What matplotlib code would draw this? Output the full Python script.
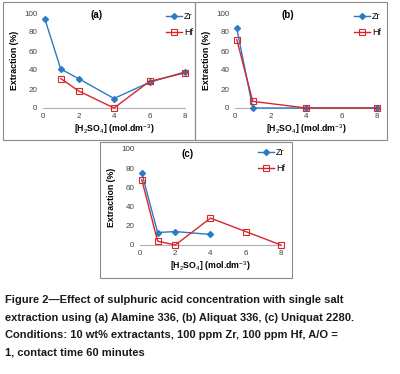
import matplotlib
matplotlib.use("Agg")
import matplotlib.pyplot as plt
from matplotlib.patches import Rectangle

plt.rcParams['font.family'] = ['Liberation Sans', 'DejaVu Sans']
plt.rcParams['mathtext.fontset'] = 'custom'
plt.rcParams['mathtext.rm'] = 'Liberation Sans'
plt.rcParams['mathtext.it'] = 'Liberation Sans:italic'
plt.rcParams['mathtext.bf'] = 'Liberation Sans:bold'

# data
a_zr_x = [0.1, 1, 2, 4, 6, 8]
a_zr_y = [94, 41, 31, 10, 27, 38]
a_hf_x = [1, 2, 4, 6, 8]
a_hf_y = [31, 18, 0, 28, 37]

b_zr_x = [0.1, 1, 4, 8]
b_zr_y = [84, 0, 0, 0]
b_hf_x = [0.1, 1, 4, 8]
b_hf_y = [72, 7, 0, 0]

c_zr_x = [0.1, 1, 2, 4]
c_zr_y = [75, 13, 14, 11]
c_hf_x = [0.1, 1, 2, 4, 6, 8]
c_hf_y = [68, 4, 0, 28, 14, 0]

panel_names = ['(a)', '(b)', '(c)']
xticks = [0, 2, 4, 6, 8]
yticks = [0, 20, 40, 60, 80, 100]

zr_col = '#2B7BC4'
hf_col = '#D9262B'

W, H = 400, 374
fig = plt.figure(figsize=(4, 3.74), dpi=100)

def px_rect(x0, y0, x1, y1):
    return [x0 / W, 1 - y1 / H, (x1 - x0) / W, (y1 - y0) / H]

def px_pt(x, y):
    return (x / W, 1 - y / H)

# panel frames
for (x0, y0, x1, y1) in [(3, 2, 195, 140), (195, 2, 387, 140), (100, 142, 292, 278)]:
    r = px_rect(x0, y0, x1, y1)
    fig.patches.append(Rectangle((r[0], r[1]), r[2], r[3], transform=fig.transFigure,
                                 fill=False, edgecolor='#8a8a8a', linewidth=0.8))

axes_px = [(43, 13, 185, 108), (235, 13, 377, 108), (140, 149, 281, 245)]
title_px = [(97, 15), (288, 15), (188, 154)]
legend_px = [(193, 12), (381, 12), (285, 148)]
series = [
    (a_zr_x, a_zr_y, a_hf_x, a_hf_y),
    (b_zr_x, b_zr_y, b_hf_x, b_hf_y),
    (c_zr_x, c_zr_y, c_hf_x, c_hf_y),
]

for i, ((x0, y0, x1, y1), (zx, zy, hx, hy)) in enumerate(zip(axes_px, series)):
    ax = fig.add_axes(px_rect(x0, y0, x1, y1))
    ax.plot(zx, zy, color=zr_col, marker='D', markersize=3, linewidth=1.0, label='Zr',
            zorder=3, clip_on=False)
    ax.plot(hx, hy, color=hf_col, marker='s', markersize=5, markerfacecolor='none',
            markeredgewidth=0.8, linewidth=1.0, label='Hf', zorder=3, clip_on=False)
    ax.set_xlim(0, 8)
    ax.set_ylim(0, 100)
    ax.set_xticks(xticks)
    ax.set_yticks(yticks)
    for s in ['top', 'right', 'left']:
        ax.spines[s].set_visible(False)
    ax.spines['bottom'].set_color('#b0b0b0')
    ax.spines['bottom'].set_linewidth(0.8)
    ax.tick_params(length=0, labelsize=5.8, labelcolor='#404040')
    ax.tick_params(axis='x', pad=3.5)
    ax.tick_params(axis='y', pad=4)
    ax.set_xlabel(r'[H$_2$SO$_4$] (mol.dm$^{-3}$)', fontsize=6.3, fontweight='bold', labelpad=1.5)
    ax.set_ylabel('Extraction (%)', fontsize=6.3, fontweight='bold', labelpad=3.5)
    ax.patch.set_alpha(0)
    tx, ty = title_px[i]
    fig.text(*px_pt(tx, ty), panel_names[i], fontsize=7, fontweight='bold', ha='center', va='center')
    ax.legend(loc='upper right', bbox_to_anchor=px_pt(*legend_px[i]),
              bbox_transform=fig.transFigure, frameon=False, fontsize=6.5,
              handlelength=1.8, labelspacing=0.75, handletextpad=0.2, borderpad=0.0,
              borderaxespad=0.0)

caption = ("Figure 2\u2014Effect of sulphuric acid concentration with single salt\n"
           "extraction using (a) Alamine 336, (b) Aliquat 336, (c) Uniquat 2280.\n"
           "Conditions: 10 wt% extractants, 100 ppm Zr, 100 ppm Hf, A/O =\n"
           "1, contact time 60 minutes")
fig.text(5 / W, 1 - 295 / H, caption, fontsize=8, fontweight='bold', va='top', ha='left',
         linespacing=1.95, color='#1a1a1a')

fig.savefig('out.png', dpi=100)
